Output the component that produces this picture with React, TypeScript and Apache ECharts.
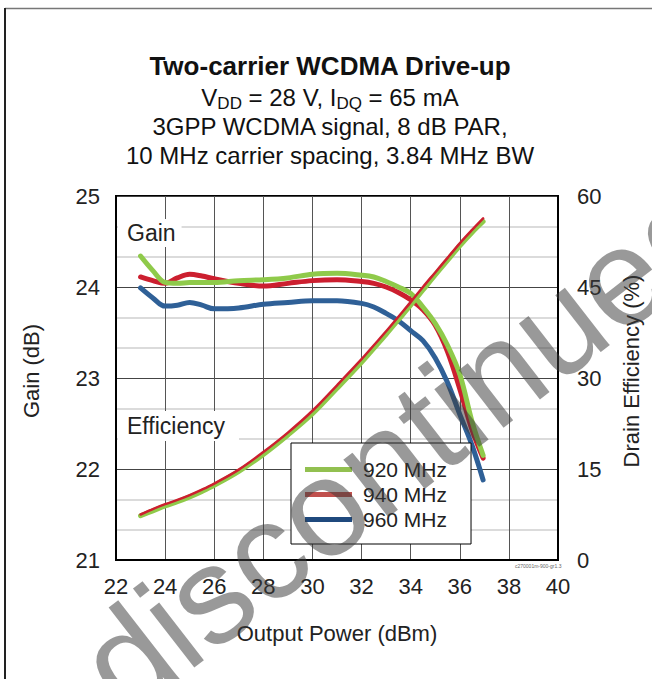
import React, { useEffect, useRef } from "react";
import * as echarts from "echarts";

const power = [23, 23.5, 24, 24.5, 25, 25.5, 26, 27, 28, 29, 30, 31, 32, 32.5, 33, 33.5, 34, 34.5, 35, 35.5, 36, 36.5, 36.95];
const gain920 = [24.34, 24.18, 24.05, 24.04, 24.05, 24.05, 24.05, 24.07, 24.08, 24.1, 24.14, 24.15, 24.13, 24.11, 24.06, 24.0, 23.93, 23.78, 23.6, 23.36, 23.04, 22.52, 22.15];
const gain940 = [24.11, 24.07, 24.04, 24.1, 24.14, 24.12, 24.09, 24.04, 24.01, 24.04, 24.07, 24.08, 24.06, 24.04, 24.0, 23.94, 23.86, 23.75, 23.58, 23.29, 22.88, 22.43, 22.12];
const gain960 = [23.99, 23.88, 23.79, 23.8, 23.83, 23.8, 23.76, 23.77, 23.81, 23.83, 23.85, 23.85, 23.82, 23.78, 23.71, 23.63, 23.52, 23.41, 23.22, 22.95, 22.6, 22.26, 21.88];
const eff920 = [7.3, 8.1, 8.9, 9.6, 10.4, 11.3, 12.3, 14.6, 17.4, 20.6, 24.1, 28.3, 32.6, 34.9, 37.2, 39.6, 42.0, 44.5, 47.0, 49.4, 51.8, 54.0, 55.8];
const eff940 = [7.5, 8.4, 9.2, 9.9, 10.7, 11.6, 12.6, 14.9, 17.8, 21.0, 24.6, 28.8, 33.1, 35.4, 37.7, 40.1, 42.5, 45.0, 47.4, 49.8, 52.2, 54.4, 56.3];

const seriesNames = ["920 MHz", "940 MHz", "960 MHz"];
const lineColors = ["#8fca4a", "#cc1f2f", "#2f6097"];
const legendColors = ["#92c050", "#c0504d", "#1f497d"];

const FONT = '"Liberation Sans", Arial, sans-serif';

function pairs(ys: number[]) {
  return power.map((p, i) => [p, ys[i]]);
}

export default function App() {
  const ref = useRef<HTMLDivElement>(null);
  useEffect(() => {
    if (!ref.current) return;
    const chart = echarts.init(ref.current, undefined, { renderer: "svg" });
    const gainLine = (name: string, data: number[], color: string) => ({
      name,
      type: "line",
      yAxisIndex: 0,
      data: pairs(data),
      smooth: 0.35,
      showSymbol: false,
      lineStyle: { color, width: 5, cap: "round" },
      itemStyle: { color },
      z: 3,
    });
    const effLine = (name: string, data: number[], color: string, width: number) => ({
      name,
      type: "line",
      yAxisIndex: 1,
      data: pairs(data),
      smooth: 0.35,
      showSymbol: false,
      lineStyle: { color, width, cap: "round" },
      itemStyle: { color },
      z: 3,
    });
    chart.setOption({
      animation: false,
      textStyle: { fontFamily: FONT },
      grid: { left: 116, top: 196, width: 442, height: 364, show: true, borderColor: "#000", borderWidth: 2, backgroundColor: "transparent" },
      legend: {
        orient: "vertical",
        left: 291,
        top: 443,
        itemWidth: 47,
        itemHeight: 5,
        itemGap: 4,
        icon: "rect",
        selectedMode: false,
        backgroundColor: "#fff",
        borderColor: "#000",
        borderWidth: 1,
        borderRadius: 0,
        padding: [16, 24, 14, 14],
        formatter: (name: string) => `{t|${name}}`,
        textStyle: {
          fontSize: 21, color: "#222", lineHeight: 20, fontFamily: FONT,
          rich: { t: { fontSize: 21, color: "#222", lineHeight: 20, fontFamily: FONT, padding: [0, 0, 0, 6] } },
        },
        data: seriesNames.map((n, i) => ({ name: n, itemStyle: { color: legendColors[i] } })),
        z: 10,
      },
      xAxis: {
        type: "value",
        min: 22,
        max: 40,
        interval: 2,
        name: "Output Power (dBm)",
        nameLocation: "middle",
        nameGap: 62,
        nameTextStyle: { fontSize: 22, color: "#222", fontFamily: FONT },
        axisLine: { show: true, lineStyle: { color: "#000", width: 2 } },
        axisTick: { show: false },
        axisLabel: { fontSize: 22, color: "#222", margin: 15, fontFamily: FONT },
        splitLine: { show: true, lineStyle: { color: "#555", width: 1 } },
      },
      yAxis: [
        {
          type: "value",
          min: 21,
          max: 25,
          interval: 1,
          name: "Gain (dB)",
          nameLocation: "middle",
          nameGap: 74,
          nameRotate: 90,
          nameTextStyle: { fontSize: 22, color: "#222", fontFamily: FONT, padding: [0, 0, 0, 14] },
          axisLine: { show: true, lineStyle: { color: "#000", width: 2 } },
          axisTick: { show: false },
          axisLabel: { fontSize: 22, color: "#222", margin: 16, fontFamily: FONT },
          splitLine: { show: true, lineStyle: { color: "#444", width: 1.2 } },
        },
        {
          type: "value",
          min: 0,
          max: 60,
          interval: 15,
          position: "right",
          name: "Drain Efficiency (%)",
          nameLocation: "middle",
          nameGap: 62,
          nameRotate: 90,
          nameTextStyle: { fontSize: 22, color: "#222", fontFamily: FONT, padding: [0, 0, 0, 14] },
          axisLine: { show: true, lineStyle: { color: "#000", width: 2 } },
          axisTick: { show: false },
          axisLabel: { fontSize: 22, color: "#222", margin: 19, fontFamily: FONT },
          splitLine: { show: false },
          minorTick: { show: false, splitNumber: 3 },
          minorSplitLine: { show: true, lineStyle: { color: "#cfcfcf", width: 1.5 } },
        },
      ],
      series: [
        gainLine(seriesNames[2], gain960, lineColors[2]),
        gainLine(seriesNames[1], gain940, lineColors[1]),
        gainLine(seriesNames[0], gain920, lineColors[0]),
        effLine("Efficiency 920 MHz", eff920, lineColors[0], 5),
        effLine("Efficiency 940 MHz", eff940, lineColors[1], 2.5),
      ],
      graphic: [
        { type: "line", shape: { x1: 5, y1: 8.5, x2: 652, y2: 8.5 }, style: { stroke: "#777", lineWidth: 1.5 }, silent: true },
        { type: "line", shape: { x1: 5, y1: 8, x2: 5, y2: 679 }, style: { stroke: "#222", lineWidth: 2 }, silent: true },
        {
          type: "text", x: 330, y: 66,
          style: { text: "Two-carrier WCDMA Drive-up", font: `bold 26px ${FONT}`, fill: "#111", align: "center", verticalAlign: "middle" },
        },
        {
          type: "text", x: 330, y: 97,
          style: {
            text: "{n|V}{s|DD}{n| = 28 V, I}{s|DQ}{n| = 65 mA}",
            align: "center", verticalAlign: "middle", fill: "#111",
            rich: {
              n: { fontSize: 24, fontFamily: FONT, lineHeight: 30, fill: "#111" },
              s: { fontSize: 17, fontFamily: FONT, lineHeight: 16, verticalAlign: "bottom", fill: "#111" },
            },
          },
        },
        {
          type: "text", x: 330, y: 126,
          style: { text: "3GPP WCDMA signal, 8 dB PAR,", font: `24px ${FONT}`, fill: "#111", align: "center", verticalAlign: "middle" },
        },
        {
          type: "text", x: 330, y: 155,
          style: { text: "10 MHz carrier spacing, 3.84 MHz BW", font: `24px ${FONT}`, fill: "#111", align: "center", verticalAlign: "middle" },
        },
        {
          type: "text", x: 118, y: 219, z: 5,
          style: { text: "Gain", font: `23px ${FONT}`, fill: "#222", align: "left", verticalAlign: "top", backgroundColor: "#fff", padding: [3, 6, 3, 9], lineHeight: 22 },
        },
        {
          type: "text", x: 118, y: 411, z: 5,
          style: { text: "Efficiency", font: `23px ${FONT}`, fill: "#222", align: "left", verticalAlign: "top", backgroundColor: "#fff", padding: [4, 14, 4, 9], lineHeight: 22 },
        },
        {
          type: "text", x: 515, y: 566,
          style: { text: "c270001m-900-gr1.3", font: `5px ${FONT}`, fill: "#666", align: "left", verticalAlign: "middle" },
        },
        {
          type: "text", x: 403, y: 445, rotation: 0.66, z: 100,
          style: { text: "discontinued", font: `138px ${FONT}`, fill: "rgba(60,60,60,0.52)", align: "center", verticalAlign: "middle" },
          silent: true,
        },
      ],
    });
    return () => chart.dispose();
  }, []);
  return <div ref={ref} style={{ position: "fixed", left: 0, top: 0, width: 652, height: 679, background: "#fff" }} />;
}
